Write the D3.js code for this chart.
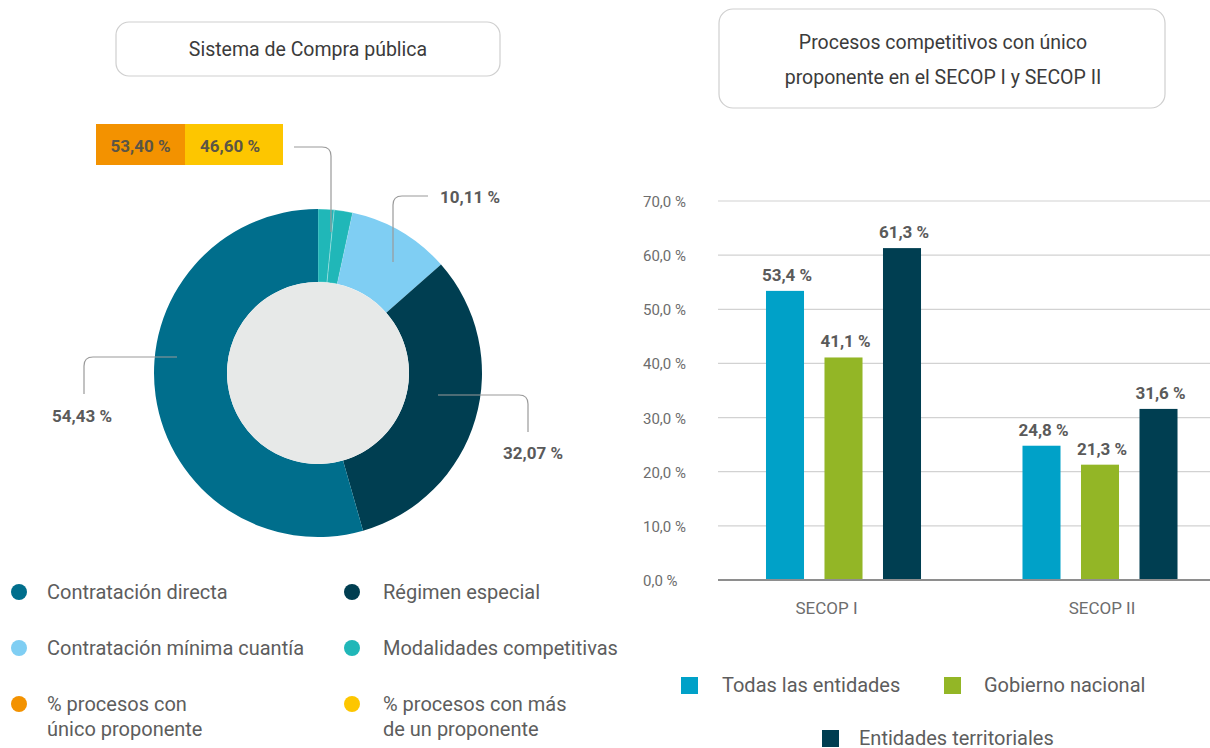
<!DOCTYPE html>
<html lang="es">
<head>
<meta charset="UTF-8">
<title>Sistema de Compra pública</title>
<style>
    body { margin: 0; background: #fff; }
    svg { display: block; font-family: Roboto, "Noto Sans", sans-serif; }
    .box { fill: #fff; stroke: #cfcfcf; stroke-width: 1.2px; }
    .title { fill: #3b3b3b; font-size: 19.5px; text-anchor: middle; }
    .val { fill: #5a5a5a; font-size: 17px; font-weight: 700; }
    .leg { fill: #5d5d5d; font-size: 20px; }
    .tick { fill: #6d6d6d; font-size: 15px; }
    .leader { fill: none; stroke: #9a9a9a; stroke-width: 1.2px; }
</style>
</head>
<body>
<div id="chart"></div>
<script src="https://cdn.jsdelivr.net/npm/d3@7"></script>
<script>
    // donut data (share of contracting by modality)
    var modalities = ["Contratación directa", "Contratación mínima cuantía", "Régimen especial", "Modalidades competitivas"]
    var modalityValues = [54.43, 10.11, 32.07, 3.39]
    // competitive processes: single bidder vs. more than one
    var bidderLabels = ["% procesos con único proponente", "% procesos con más de un proponente"]
    var bidderValues = [53.40, 46.60]

    // bar data
    var platforms = ["SECOP I", "SECOP II"]
    var groups = ["Todas las entidades", "Gobierno nacional", "Entidades territoriales"]
    var todasValues = [53.4, 24.8]
    var gobiernoValues = [41.1, 21.3]
    var territorialValues = [61.3, 31.6]
    var yTicks = [0, 10, 20, 30, 40, 50, 60, 70]

    var locale = d3.formatLocale({decimal: ",", thousands: ".", grouping: [3], currency: ["", ""]})
    var f1 = locale.format(".1f"), f2 = locale.format(".2f")

    var svg = d3.select("#chart").append("svg").attr("width", 1210).attr("height", 748)

    // ---------- title boxes
    svg.append("rect").attr("class", "box").attr("x", 116).attr("y", 22).attr("width", 384).attr("height", 54).attr("rx", 13)
    svg.append("text").attr("class", "title").attr("x", 308).attr("y", 56).text("Sistema de Compra pública")

    svg.append("rect").attr("class", "box").attr("x", 719).attr("y", 9).attr("width", 446).attr("height", 99).attr("rx", 14)
    svg.append("text").attr("class", "title").attr("x", 943).attr("y", 49).text("Procesos competitivos con único")
    svg.append("text").attr("class", "title").attr("x", 943).attr("y", 84).text("proponente en el SECOP I y SECOP II")

    // ---------- donut
    var cx = 318, cy = 373, rOut = 164, rIn = 91
    var donutColors = ["#006e8c", "#7fcef3", "#003e51", "#20b7b8"]
    var bidderColors = ["#f39200", "#fdc600"]

    // clockwise from 12 o'clock: competitive (split), minima, especial, directa
    var order = [3, 1, 2, 0]
    var slices = []
    order.forEach(function (i) {
        if (i === 3) {
            slices.push({k: i, v: modalityValues[i] * bidderValues[1] / 100})
            slices.push({k: i, v: modalityValues[i] * bidderValues[0] / 100})
        } else {
            slices.push({k: i, v: modalityValues[i]})
        }
    })

    var pie = d3.pie().sort(null).value(function (d) { return d.v })
    var arc = d3.arc().innerRadius(rIn).outerRadius(rOut)
    var dg = svg.append("g").attr("transform", "translate(" + cx + "," + cy + ")")
    dg.selectAll("path.slice")
        .data(pie(slices))
        .enter().append("path")
        .attr("class", "slice")
        .attr("d", arc)
        .attr("fill", function (d) { return donutColors[d.data.k] })
        .attr("stroke", function (d) { return d.data.k === 3 ? "rgba(255,255,255,0.35)" : "none" })
        .attr("stroke-width", 0.8)
    dg.append("circle").attr("r", rIn).attr("fill", "#e7e9e8")

    // leader lines (relative to donut centre)
    var leaders = [
        "M" + (cx - 141) + "," + (cy - 16) + " H" + (cx - 225) + " q-9,0 -9,9 V" + (cy + 21),
        "M" + (cx + 120) + "," + (cy + 22) + " H" + (cx + 201) + " q9,0 9,9 V" + (cy + 59),
        "M" + (cx + 75) + "," + (cy - 111) + " V" + (cy - 168) + " q0,-9 9,-9 H" + (cx + 110),
        "M" + (cx + 13) + "," + (cy - 141) + " V" + (cy - 217) + " q0,-9 -9,-9 H" + (cx - 24)
    ]
    svg.selectAll("path.leader").data(leaders).enter().append("path").attr("class", "leader").attr("d", function (d) { return d })

    var ringLabels = [
        {v: modalityValues[0], x: 52, y: 422},
        {v: modalityValues[2], x: 503, y: 459},
        {v: modalityValues[1], x: 440, y: 203}
    ]
    svg.selectAll("text.ring").data(ringLabels).enter().append("text")
        .attr("class", "val ring").attr("x", function (d) { return d.x }).attr("y", function (d) { return d.y })
        .text(function (d) { return f2(d.v) + " %" })

    // single vs multiple bidder boxes
    var boxW = [89, 98], bx = 96
    bidderValues.forEach(function (v, i) {
        var x0 = bx + (i ? boxW[0] : 0)
        svg.append("rect").attr("x", x0).attr("y", 124).attr("width", boxW[i]).attr("height", 41).attr("fill", bidderColors[i])
        svg.append("text").attr("class", "val").attr("x", x0 + boxW[i] / 2 - (i ? 4 : 0)).attr("y", 152)
            .attr("text-anchor", "middle").style("fill", "#5b5545").text(f2(v) + " %")
    })

    // donut legend
    var legItems = [
        {c: donutColors[0], t: [modalities[0]], x: 19, y: 592},
        {c: donutColors[2], t: [modalities[2]], x: 352, y: 592},
        {c: donutColors[1], t: [modalities[1]], x: 19, y: 648},
        {c: donutColors[3], t: [modalities[3]], x: 352, y: 648},
        {c: bidderColors[0], t: ["% procesos con", "único proponente"], x: 19, y: 704},
        {c: bidderColors[1], t: ["% procesos con más", "de un proponente"], x: 352, y: 704}
    ]
    var lg = svg.selectAll("g.dleg").data(legItems).enter().append("g").attr("class", "dleg")
        .attr("transform", function (d) { return "translate(" + d.x + "," + d.y + ")" })
    lg.append("circle").attr("r", 8).attr("fill", function (d) { return d.c })
    lg.each(function (d) {
        var tx = d.x > 100 ? 31 : 28
        var t = d3.select(this).append("text").attr("class", "leg").attr("x", tx).attr("y", 7)
        d.t.forEach(function (line, i) {
            t.append("tspan").attr("x", tx).attr("dy", i ? 25 : 0).text(line)
        })
    })

    // ---------- grouped bars
    var y = d3.scaleLinear().domain([0, 70]).range([580, 201])
    var x0 = d3.scaleBand().domain(platforms).range([715.25, 1228.25])
    var x1 = d3.scaleBand().domain(groups).range([-87.75, 87.75]).paddingInner(0.35).paddingOuter(0.175)
    var barColors = ["#00a1c8", "#93b626", "#003e51"]
    var seriesValues = [todasValues, gobiernoValues, territorialValues]

    var bg = svg.append("g")
    bg.selectAll("line.grid").data(yTicks.slice(1)).enter().append("line")
        .attr("x1", 718).attr("x2", 1210)
        .attr("y1", function (d) { return y(d) }).attr("y2", function (d) { return y(d) })
        .attr("stroke", "#d2d2d2").attr("stroke-width", 1.2)
    bg.selectAll("text.tick").data(yTicks).enter().append("text")
        .attr("class", "tick").attr("x", 643).attr("y", function (d) { return y(d) + 6 })
        .text(function (d) { return f1(d) + " %" })

    var bars = []
    platforms.forEach(function (p, i) {
        groups.forEach(function (g, j) {
            bars.push({p: p, g: g, j: j, v: seriesValues[j][i]})
        })
    })
    var bx0 = function (d) { return x0(d.p) + x0.bandwidth() / 2 + x1(d.g) }
    bg.selectAll("rect.bar").data(bars).enter().append("rect")
        .attr("x", bx0).attr("width", x1.bandwidth())
        .attr("y", function (d) { return y(d.v) }).attr("height", function (d) { return y(0) - y(d.v) })
        .attr("fill", function (d) { return barColors[d.j] })
    bg.selectAll("text.bval").data(bars).enter().append("text")
        .attr("class", "val bval").attr("text-anchor", "middle")
        .attr("x", function (d) { return bx0(d) + x1.bandwidth() / 2 + 2 })
        .attr("y", function (d) { return y(d.v) - 10 })
        .text(function (d) { return f1(d.v) + " %" })

    bg.append("line").attr("x1", 718).attr("x2", 1210).attr("y1", 580).attr("y2", 580)
        .attr("stroke", "#8e8e8e").attr("stroke-width", 2.2)
    bg.selectAll("text.cat").data(platforms).enter().append("text")
        .attr("class", "tick").attr("text-anchor", "middle").style("font-size", "17px")
        .attr("x", function (d, i) { return x0(d) + x0.bandwidth() / 2 + (i ? 2 : -17) })
        .attr("y", 614).text(function (d) { return d })

    // bar legend
    var barLeg = [
        {x: 681, y: 677}, {x: 944, y: 677}, {x: 822, y: 730}
    ]
    var bl = svg.selectAll("g.bleg").data(groups).enter().append("g").attr("class", "bleg")
        .attr("transform", function (d, i) { return "translate(" + barLeg[i].x + "," + barLeg[i].y + ")" })
    bl.append("rect").attr("width", 17).attr("height", 17).attr("fill", function (d, i) { return barColors[i] })
    bl.append("text").attr("class", "leg").attr("x", function (d, i) { return i === 1 ? 40 : (i === 2 ? 37 : 41) })
        .attr("y", 15).text(function (d) { return d })
</script>
</body>
</html>
